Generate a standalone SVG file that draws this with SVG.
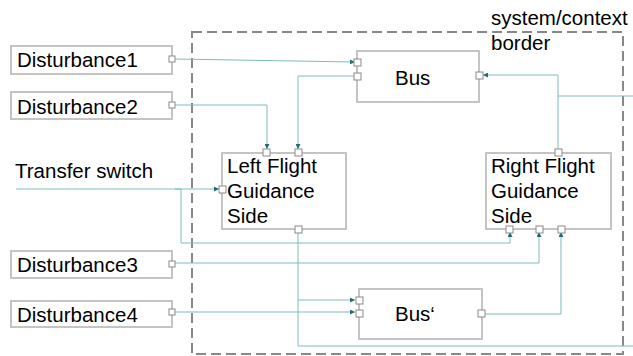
<svg xmlns="http://www.w3.org/2000/svg" width="633" height="356" viewBox="0 0 633 356">
<style>
.box{fill:#fff;stroke:#c4c4c4;stroke-width:2}
.port{fill:#fff;stroke:#8a8a8a;stroke-width:1}
.c{fill:none;stroke:#7fbcbc;stroke-width:1}
text{font-family:"Liberation Sans",Arial,sans-serif;font-size:20.5px;fill:#000}
</style>
<defs>
<marker id="a" viewBox="0 0 6 6" refX="6" refY="3" markerWidth="5" markerHeight="5" orient="auto" markerUnits="userSpaceOnUse">
<path d="M0,0 L6,3 L0,6 z" fill="#1f6f72"/>
</marker>
</defs>
<rect x="0" y="0" width="633" height="356" fill="#fff"/>
<g id="border">
<rect x="192" y="32" width="431" height="322" fill="none" stroke="#888" stroke-width="2" stroke-dasharray="10,5"/>
<text x="491" y="25">system/context</text>
<text x="491" y="50">border</text>
</g>
<g id="connectors">
<path class="c" d="M174,59 L355,62" marker-end="url(#a)"/>
<path class="c" d="M174,105 H267 V149" marker-end="url(#a)"/>
<path class="c" d="M354,76 H298 V149" marker-end="url(#a)"/>
<path class="c" d="M16,189 H219" marker-end="url(#a)"/>
<path class="c" d="M175,189 H181 V243 H510 V232" marker-end="url(#a)"/>
<path class="c" d="M558,149 V75 H483" marker-end="url(#a)"/>
<path class="c" d="M558,96 H633"/>
<path class="c" d="M174,263 H539 V232" marker-end="url(#a)"/>
<path class="c" d="M174,312 H355" marker-end="url(#a)"/>
<path class="c" d="M298,232 V300 H355" marker-end="url(#a)"/>
<path class="c" d="M298,300 V346 H633"/>
<path class="c" d="M485,314 H561 V232" marker-end="url(#a)"/>
</g>
<g id="disturbance1">
<rect class="box" x="11" y="46" width="161" height="28"/>
<text x="17" y="67">Disturbance1</text>
<rect class="port" x="169" y="56" width="6" height="6"/>
</g>
<g id="disturbance2">
<rect class="box" x="11" y="92" width="161" height="27"/>
<text x="17" y="114">Disturbance2</text>
<rect class="port" x="169" y="102" width="6" height="6"/>
</g>
<g id="transfer-switch">
<text x="15" y="178">Transfer switch</text>
</g>
<g id="disturbance3">
<rect class="box" x="11" y="251" width="161" height="27"/>
<text x="17" y="272">Disturbance3</text>
<rect class="port" x="169" y="261" width="6" height="6"/>
</g>
<g id="disturbance4">
<rect class="box" x="11" y="301" width="161" height="26"/>
<text x="17" y="322">Disturbance4</text>
<rect class="port" x="169" y="309" width="6" height="6"/>
</g>
<g id="bus">
<rect class="box" x="357" y="51" width="122" height="51"/>
<text x="395" y="85">Bus</text>
<rect class="port" x="354" y="59" width="7" height="7"/>
<rect class="port" x="354" y="73" width="7" height="7"/>
<rect class="port" x="476" y="72" width="7" height="7"/>
</g>
<g id="left-fg">
<rect class="box" x="222" y="153" width="124" height="76"/>
<text x="227" y="173">Left Flight</text>
<text x="227" y="198">Guidance</text>
<text x="227" y="223">Side</text>
<rect class="port" x="263" y="149" width="7" height="7"/>
<rect class="port" x="295" y="149" width="7" height="7"/>
<rect class="port" x="219" y="186" width="7" height="7"/>
<rect class="port" x="295" y="226" width="7" height="7"/>
</g>
<g id="right-fg">
<rect class="box" x="486" y="153" width="125" height="76"/>
<text x="491" y="173">Right Flight</text>
<text x="491" y="198">Guidance</text>
<text x="491" y="223">Side</text>
<rect class="port" x="555" y="149" width="7" height="7"/>
<rect class="port" x="506" y="226" width="7" height="7"/>
<rect class="port" x="536" y="226" width="7" height="7"/>
<rect class="port" x="558" y="226" width="7" height="7"/>
</g>
<g id="bus2">
<rect class="box" x="359" y="289" width="123" height="50"/>
<text x="395" y="321">Bus‘</text>
<rect class="port" x="356" y="297" width="7" height="7"/>
<rect class="port" x="356" y="310" width="7" height="7"/>
<rect class="port" x="478" y="310" width="7" height="7"/>
</g>
</svg>
